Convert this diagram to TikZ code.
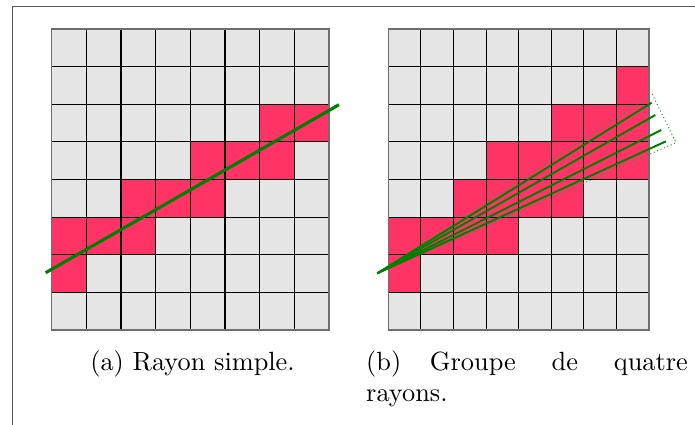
\documentclass[tikz,border=0pt]{standalone}
\usepackage{tikz}
\usepackage{xcolor}
\usetikzlibrary{positioning}
\definecolor{cellgray} {HTML}{E5E5E5}
\definecolor{hitpink}  {HTML}{FF3366}
\definecolor{raygreen} {HTML}{008000}
\definecolor{framegray}{HTML}{5A5A5A}
\definecolor{edgegray} {HTML}{6E6E6E}

\tikzset{
  gridline/.style={draw=black,line width=0.4pt},
  gridedge/.style={draw=edgegray,line width=0.6pt},
  raythick/.style={draw=raygreen,line width=1.2pt},
  raythin/.style={draw=raygreen,line width=0.75pt},
  beam/.style={draw=raygreen!80,line width=0.4pt,densely dotted},
  subcap/.style={inner sep=0pt,font=\normalsize}
}

\begin{document}
\begin{tikzpicture}[x=0.38pt,y=-0.38pt]
    \useasboundingbox (0,0) rectangle (695,425);
    % frame
    \draw[framegray,line width=0.4pt] (12.3,425) -- (12.3,6.7) -- (695,6.7);

    % (a) single ray
    \fill[cellgray] (51.7,29) rectangle (329,330);
    \foreach \c/\r in {6/2,7/2,4/3,5/3,6/3,2/4,3/4,4/4,0/5,1/5,2/5,0/6}
      \fill[hitpink] ({51.7+\c*34.66},{29+\r*37.63}) rectangle ++(34.66,37.63);
    \foreach \i in {1,...,7} {
      \draw[gridline] ({51.7+\i*34.66},29) -- ({51.7+\i*34.66},330);
      \draw[gridline] (51.7,{29+\i*37.63}) -- (329,{29+\i*37.63});
    }
    \draw[gridedge] (51.7,29) rectangle (329,330);
    \coordinate (ray a start) at (45.7,272.7);
    \coordinate (ray a end)   at (339,104.7);
    \draw[raythick] (ray a start) -- (ray a end);
    \node[subcap,anchor=base] (cap a) at (192.5,370) {(a) Rayon simple.};

    % (b) packet of four rays
    \fill[cellgray] (388.3,29) rectangle (649,330);
    \foreach \c/\r in {7/1,5/2,6/2,7/2,3/3,4/3,5/3,6/3,7/3,2/4,3/4,4/4,5/4,0/5,1/5,2/5,3/5,0/6}
      \fill[hitpink] ({388.3+\c*32.59},{29+\r*37.63}) rectangle ++(32.59,37.63);
    \foreach \i in {1,...,7} {
      \draw[gridline] ({388.3+\i*32.59},29) -- ({388.3+\i*32.59},330);
      \draw[gridline] (388.3,{29+\i*37.63}) -- (649,{29+\i*37.63});
    }
    \draw[gridedge] (388.3,29) rectangle (649,330);
    \coordinate (eye)      at (377.3,273.3);
    \coordinate (beam top) at (652.3,94.3);
    \coordinate (beam bot) at (676,142.7);
    \coordinate (ray 1) at (651.7,102.7);
    \coordinate (ray 2) at (655.3,115);
    \coordinate (ray 3) at (661.3,130);
    \coordinate (ray 4) at (666,141.3);
    \draw[beam] (eye) -- (beam top) -- (beam bot) -- cycle;
    \foreach \k in {1,...,4}
      \draw[raythin] (eye) -- (ray \k);
    \node[subcap,anchor=base west,text width=122.2pt,align=left] (cap b) at (365.7,370)
      {(b)\hspace{10.9pt}Groupe\hfill de\hfill quatre\\rayons.};
  \end{tikzpicture}
\end{document}
